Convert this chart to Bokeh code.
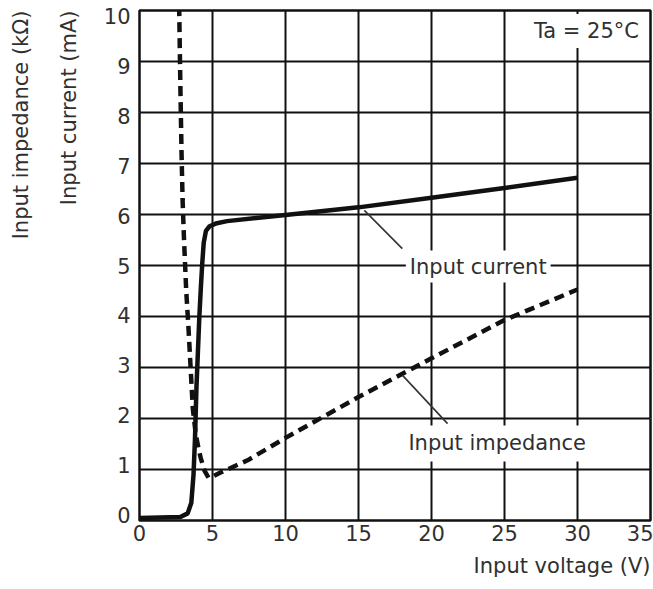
from bokeh.plotting import figure
from bokeh.models import Range1d, LinearAxis, FixedTicker, Grid, Label, Title
from bokeh.embed import file_html
from bokeh.resources import INLINE

# ---------------- data ----------------
voltage_cur = [0, 2.8, 3.3, 3.55, 3.7, 3.8, 3.9, 4.0, 4.1, 4.2, 4.3, 4.4, 4.55,
               4.8, 5.3, 6, 8, 10, 15, 20, 25, 30]
current_mA = [0.05, 0.07, 0.14, 0.35, 0.9, 1.6, 2.6, 3.3, 4.0, 4.55, 5.05, 5.45,
              5.68, 5.77, 5.83, 5.87, 5.93, 5.99, 6.14, 6.33, 6.52, 6.72]

voltage_imp = [2.7, 2.8, 2.88, 2.95, 3.05, 3.2, 3.35, 3.5, 3.65, 3.85, 4.05, 4.2,
               4.45, 4.73, 5.0, 5.55, 7.4, 10, 15, 20, 25, 30]
impedance_kohm = [10.4, 8.5, 7.2, 6.3, 5.5, 4.5, 3.8, 3.0, 2.2, 1.7, 1.4, 1.22,
                  0.98, 0.84, 0.86, 0.94, 1.18, 1.62, 2.42, 3.18, 3.93, 4.53]

x_ticks = [0, 5, 10, 15, 20, 25, 30, 35]
y_ticks = [0, 1, 2, 3, 4, 5, 6, 7, 8, 9, 10]

# leader lines from labels to curves
current_leader_x = [15.4, 18.0]
current_leader_y = [6.08, 5.33]
imp_leader_x = [18.0, 21.1]
imp_leader_y = [2.85, 1.90]

FONT = "DejaVu Sans"
TXT = "#303030"
FS = "21px"

p = figure(width=653, height=589, x_range=Range1d(0, 35), y_range=Range1d(0, 10),
           output_backend="svg", toolbar_location=None, y_axis_location=None,
           min_border_left=139, min_border_right=3, min_border_top=10,
           min_border_bottom=69)
p.background_fill_color = "white"
p.border_fill_color = "white"
p.outline_line_color = "#111111"
p.outline_line_width = 2.5


def style_axis(axis):
    axis.major_tick_out = 0
    axis.major_tick_in = 0
    axis.minor_tick_out = 0
    axis.minor_tick_in = 0
    axis.axis_line_color = None
    axis.major_label_text_font = FONT
    axis.major_label_text_font_size = FS
    axis.major_label_text_color = TXT


def axis_title(text, side, **kw):
    p.add_layout(Title(text=text, align="right", text_font=FONT, text_font_size=FS,
                       text_color=TXT, text_font_style="normal", **kw), side)


# x axis
xt = FixedTicker(ticks=x_ticks, minor_ticks=[])
ax = p.xaxis[0]
ax.ticker = xt
style_axis(ax)
ax.major_label_standoff = 4
p.xgrid.ticker = xt
p.xgrid.grid_line_color = "#111111"
p.xgrid.grid_line_width = 2
axis_title("Input voltage (V)", "below", vertical_align="top", standoff=20)

# y axis (label positions as in the reference print)
p.extra_y_ranges = {"ylab": Range1d(-0.12, 10.12)}
yt = FixedTicker(ticks=y_ticks, minor_ticks=[])
yax = LinearAxis(y_range_name="ylab", ticker=yt)
style_axis(yax)
yax.major_label_standoff = 9
p.add_layout(yax, "left")

axis_title("Input current (mA)", "left", vertical_align="bottom", standoff=40)
axis_title("Input impedance (kΩ)", "left", vertical_align="bottom", standoff=4)

p.add_layout(Grid(dimension=1, ticker=FixedTicker(ticks=y_ticks, minor_ticks=[]),
                  grid_line_color="#111111", grid_line_width=2))

# curves
p.line(voltage_cur, current_mA, line_color="#111111", line_width=4.5)
p.line(voltage_imp, impedance_kohm, line_color="#111111", line_width=4.5,
       line_dash="10 6")
p.line(current_leader_x, current_leader_y, line_color="#333333", line_width=1.6)
p.line(imp_leader_x, imp_leader_y, line_color="#333333", line_width=1.6)


def lab(text, x, y, align="center", pad=4):
    p.add_layout(Label(x=x, y=y, text=text, text_align=align, text_baseline="middle",
                       text_font=FONT, text_font_size=FS, text_color=TXT, padding=pad,
                       background_fill_color="white"))


lab("Ta = 25°C", 34.55, 9.6, align="right", pad=5)
lab("Input current", 23.2, 4.98, pad=4)
lab("Input impedance", 24.5, 1.51, pad=6)

open("out.html", "w").write(file_html(p, INLINE))
